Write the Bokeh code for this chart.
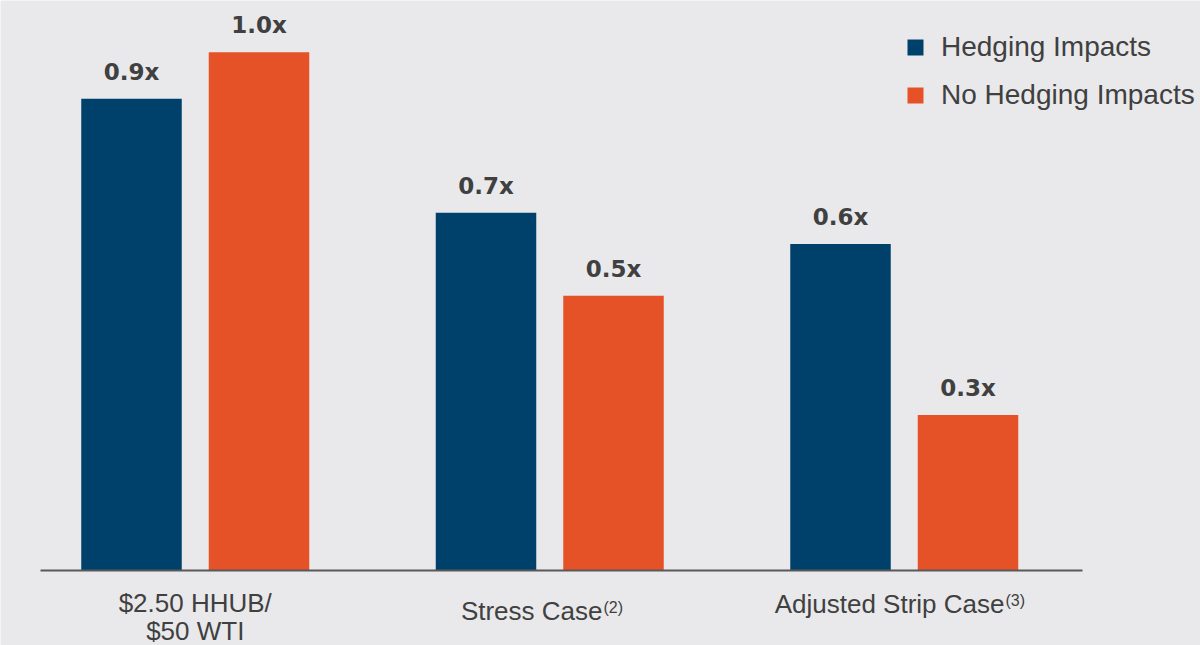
from bokeh.plotting import figure
from bokeh.models import ColumnDataSource, Range1d, Legend, LegendItem
from bokeh.transform import dodge
from bokeh.core.properties import value
from bokeh.embed import file_html
from bokeh.resources import INLINE

# ---------------- data ----------------
categories = ["$2.50 HHUB/\n$50 WTI", "Stress Case", "Adjusted Strip Case"]
footnotes = ["", "(2)", "(3)"]
series_names = ["Hedging Impacts", "No Hedging Impacts"]
hedging = [0.91, 0.69, 0.63]
no_hedging = [1.00, 0.53, 0.30]
hedging_labels = ["0.9x", "0.7x", "0.6x"]
no_hedging_labels = ["1.0x", "0.5x", "0.3x"]

# ---------------- style / layout ----------------
NAVY = "#00416b"
ORANGE = "#e55227"
BG = "#e9e9eb"
TEXT = "#404040"
AXIS = "#595959"

W, H = 1200, 645
px_per_group = 354.5
x0_px = 194.75
base_px = 570
px_per_unit = 518.3

p = figure(width=W, height=H, output_backend="svg", toolbar_location=None,
           x_range=Range1d(-x0_px / px_per_group, (W - x0_px) / px_per_group),
           y_range=Range1d(-(H - base_px) / px_per_unit, base_px / px_per_unit),
           x_axis_location=None, y_axis_location=None,
           min_border=0, outline_line_color=None,
           background_fill_color=BG, border_fill_color=BG)
p.grid.visible = False

xs = list(range(len(categories)))
src = ColumnDataSource(dict(x=xs, hedging=hedging, no_hedging=no_hedging,
                            hl=hedging_labels, nl=no_hedging_labels))
off = 63.75 / px_per_group
bw = 100.5 / px_per_group

r1 = p.vbar(x=dodge('x', -off), top='hedging', width=bw, bottom=0,
            fill_color=NAVY, line_color=None, source=src)
r2 = p.vbar(x=dodge('x', off), top='no_hedging', width=bw, bottom=0,
            fill_color=ORANGE, line_color=None, source=src)

lbl_kw = dict(text_align='center', text_baseline='alphabetic', y_offset=-27,
              text_font=value("DejaVu Sans"), text_font_style='bold',
              text_font_size='23px', text_color=TEXT, source=src)
p.text(x=dodge('x', -off), y='hedging', text='hl', **lbl_kw)
p.text(x=dodge('x', off), y='no_hedging', text='nl', **lbl_kw)

# baseline (axis) line
p.segment(x0=[(40 - x0_px) / px_per_group], y0=[0],
          x1=[(1082 - x0_px) / px_per_group], y1=[0],
          line_color=AXIS, line_width=2)

# category labels (main text + superscript footnotes)
main_x, main_t, main_xo, main_yo, main_al = [], [], [], [], []
fn_x, fn_t, fn_xo, fn_yo = [], [], [], []
# per-category layout offsets in pixels
main_layout = [(0, [32, 60], 'center'), (52.75, [40], 'right'), (100.25, [33], 'right')]
fn_layout = [(0, 0), (53.75, 37), (101.25, 30)]
for i, cat in enumerate(categories):
    xo, yos, al = main_layout[i]
    for line, yo in zip(cat.split("\n"), yos):
        main_x.append(i); main_t.append(line); main_xo.append(xo)
        main_yo.append(yo); main_al.append(al)
    if footnotes[i]:
        fn_x.append(i); fn_t.append(footnotes[i])
        fn_xo.append(fn_layout[i][0]); fn_yo.append(fn_layout[i][1])

main_src = ColumnDataSource(dict(x=main_x, y=[0] * len(main_x), t=main_t,
                                 xo=main_xo, yo=main_yo, al=main_al))
p.text(x='x', y='y', text='t', x_offset='xo', y_offset='yo', text_align='al',
       text_baseline='alphabetic', text_font=value("Liberation Sans"),
       text_font_size='26px', text_color=TEXT, source=main_src)

fn_src = ColumnDataSource(dict(x=fn_x, y=[0] * len(fn_x), t=fn_t, xo=fn_xo, yo=fn_yo))
p.text(x='x', y='y', text='t', x_offset='xo', y_offset='yo', text_align='left',
       text_baseline='alphabetic', text_font=value("Liberation Sans"),
       text_font_size='16px', text_color=TEXT, source=fn_src)

legend = Legend(items=[LegendItem(label=series_names[0], renderers=[r1]),
                       LegendItem(label=series_names[1], renderers=[r2])],
                location=(905, 534), orientation="vertical",
                glyph_width=20, glyph_height=20, label_standoff=16, spacing=16,
                padding=0, margin=0, label_height=20,
                label_text_font="Liberation Sans", label_text_font_size="28px",
                label_text_color=TEXT, border_line_color=None,
                background_fill_alpha=0)
p.add_layout(legend)

open("out.html", "w").write(file_html(p, INLINE))
